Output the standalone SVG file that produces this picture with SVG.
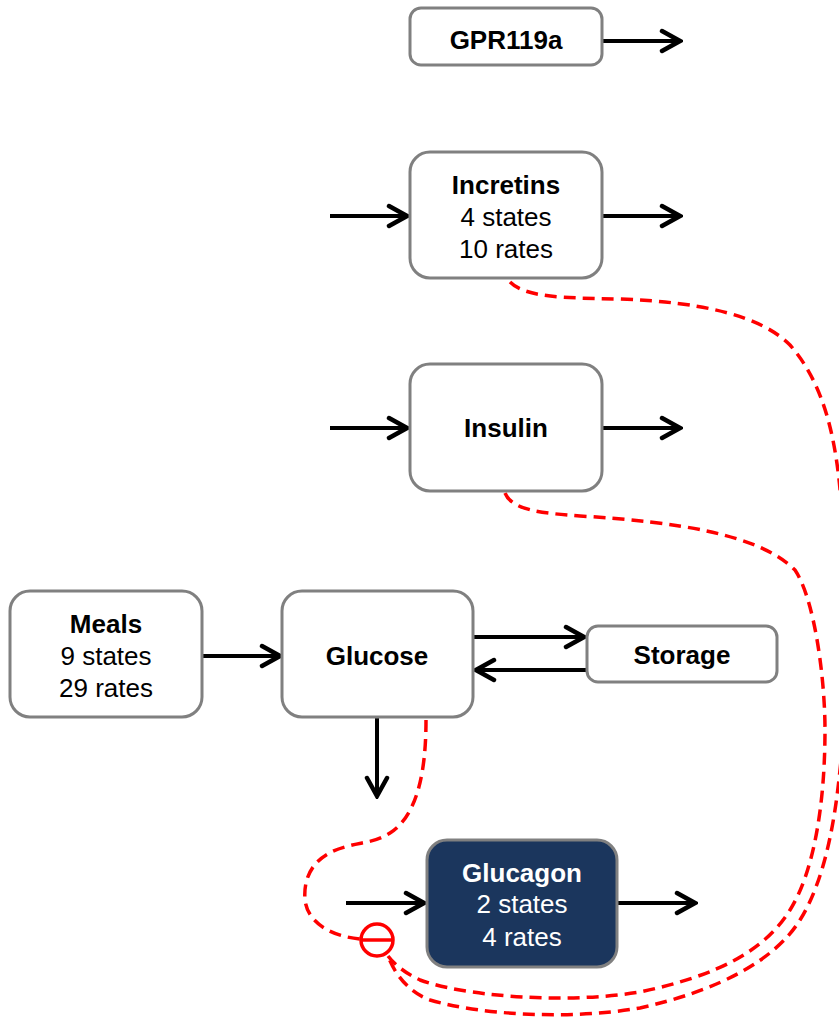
<svg xmlns="http://www.w3.org/2000/svg" width="839" height="1018" viewBox="0 0 839 1018">
  <style>
    .box { fill: #ffffff; stroke: #808080; stroke-width: 3; }
    .dark { fill: #1b365d; stroke: #808080; stroke-width: 3; }
    .t { font-family: "Liberation Sans", Arial, sans-serif; font-size: 26px; text-anchor: middle; fill: #000000; }
    .b { font-weight: bold; }
    .w { fill: #ffffff; }
    .flow { stroke: #000000; stroke-width: 4; fill: none; marker-end: url(#head); }
    .reg { stroke: #ff0000; stroke-width: 3.5; fill: none; stroke-dasharray: 12 7; }
    .inh { stroke: #ff0000; stroke-width: 3.5; fill: #ffffff; }
  </style>
  <defs>
    <marker id="head" markerUnits="userSpaceOnUse" viewBox="0 0 24 26" markerWidth="24" markerHeight="26" refX="21" refY="13" orient="auto">
      <path d="M3,3 L21,13 L3,23" fill="none" stroke="#000000" stroke-width="4.5" stroke-linecap="round" stroke-linejoin="miter"/>
    </marker>
  </defs>

  <!-- connectors -->
  <g id="connectors">
    <line class="flow" x1="603" y1="41" x2="680" y2="41"/>
    <line class="flow" x1="330" y1="216" x2="407" y2="216"/>
    <line class="flow" x1="603" y1="216" x2="680" y2="216"/>
    <line class="flow" x1="330" y1="428" x2="407" y2="428"/>
    <line class="flow" x1="603" y1="428" x2="680" y2="428"/>
    <line class="flow" x1="203" y1="656" x2="280" y2="656"/>
    <line class="flow" x1="474" y1="637" x2="584" y2="637"/>
    <line class="flow" x1="586" y1="670" x2="476" y2="670"/>
    <line class="flow" x1="377" y1="718" x2="377" y2="796"/>
    <line class="flow" x1="346" y1="903" x2="424" y2="903"/>
    <line class="flow" x1="618" y1="903" x2="695" y2="903"/>

    <!-- regulatory links into the inhibition marker -->
    <path class="reg" d="M426,720 C426,770 418,815 390,833 C375,843 360,842 345,847 C315,855 303,875 305,900 C308,925 335,937 361,939"/>
    <path class="reg" d="M510,282 C525,297 560,298 620,299 C700,302 760,315 790,345 C825,385 836,440 841,500 C846,570 850,680 840,770 C835,820 825,880 800,920 C775,960 720,990 640,1008 C570,1020 480,1015 430,1000 C410,993 395,975 388,956"/>
    <path class="reg" d="M505,493 C512,510 540,513 580,516 C680,522 760,535 795,570 C815,600 825,680 825,730 C825,800 815,870 790,910 C765,950 720,975 640,992 C560,1005 460,995 420,980 C405,973 395,965 388,956"/>
    <g id="inhibit">
      <circle class="inh" cx="377" cy="940" r="16"/>
      <line x1="361" y1="940" x2="393" y2="940" stroke="#ff0000" stroke-width="3.5"/>
    </g>
  </g>

  <g id="gpr119a">
    <rect class="box" x="410" y="8" width="192" height="57" rx="11"/>
    <text class="t b" x="506" y="49">GPR119a</text>
  </g>

  <g id="incretins">
    <rect class="box" x="410" y="152" width="192" height="126" rx="20"/>
    <text class="t b" x="506" y="194">Incretins</text>
    <text class="t" x="506" y="226">4 states</text>
    <text class="t" x="506" y="258">10 rates</text>
  </g>

  <g id="insulin">
    <rect class="box" x="410" y="364" width="192" height="127" rx="20"/>
    <text class="t b" x="506" y="437">Insulin</text>
  </g>

  <g id="meals">
    <rect class="box" x="10" y="591" width="192" height="126" rx="20"/>
    <text class="t b" x="106" y="633">Meals</text>
    <text class="t" x="106" y="665">9 states</text>
    <text class="t" x="106" y="697">29 rates</text>
  </g>

  <g id="glucose">
    <rect class="box" x="282" y="591" width="191" height="126" rx="20"/>
    <text class="t b" x="377" y="665">Glucose</text>
  </g>

  <g id="storage">
    <rect class="box" x="587" y="626" width="190" height="56" rx="11"/>
    <text class="t b" x="682" y="664">Storage</text>
  </g>

  <g id="glucagon">
    <rect class="dark" x="427" y="840" width="190" height="127" rx="20"/>
    <text class="t b w" x="522" y="882">Glucagon</text>
    <text class="t w" x="522" y="913">2 states</text>
    <text class="t w" x="522" y="946">4 rates</text>
  </g>
</svg>
